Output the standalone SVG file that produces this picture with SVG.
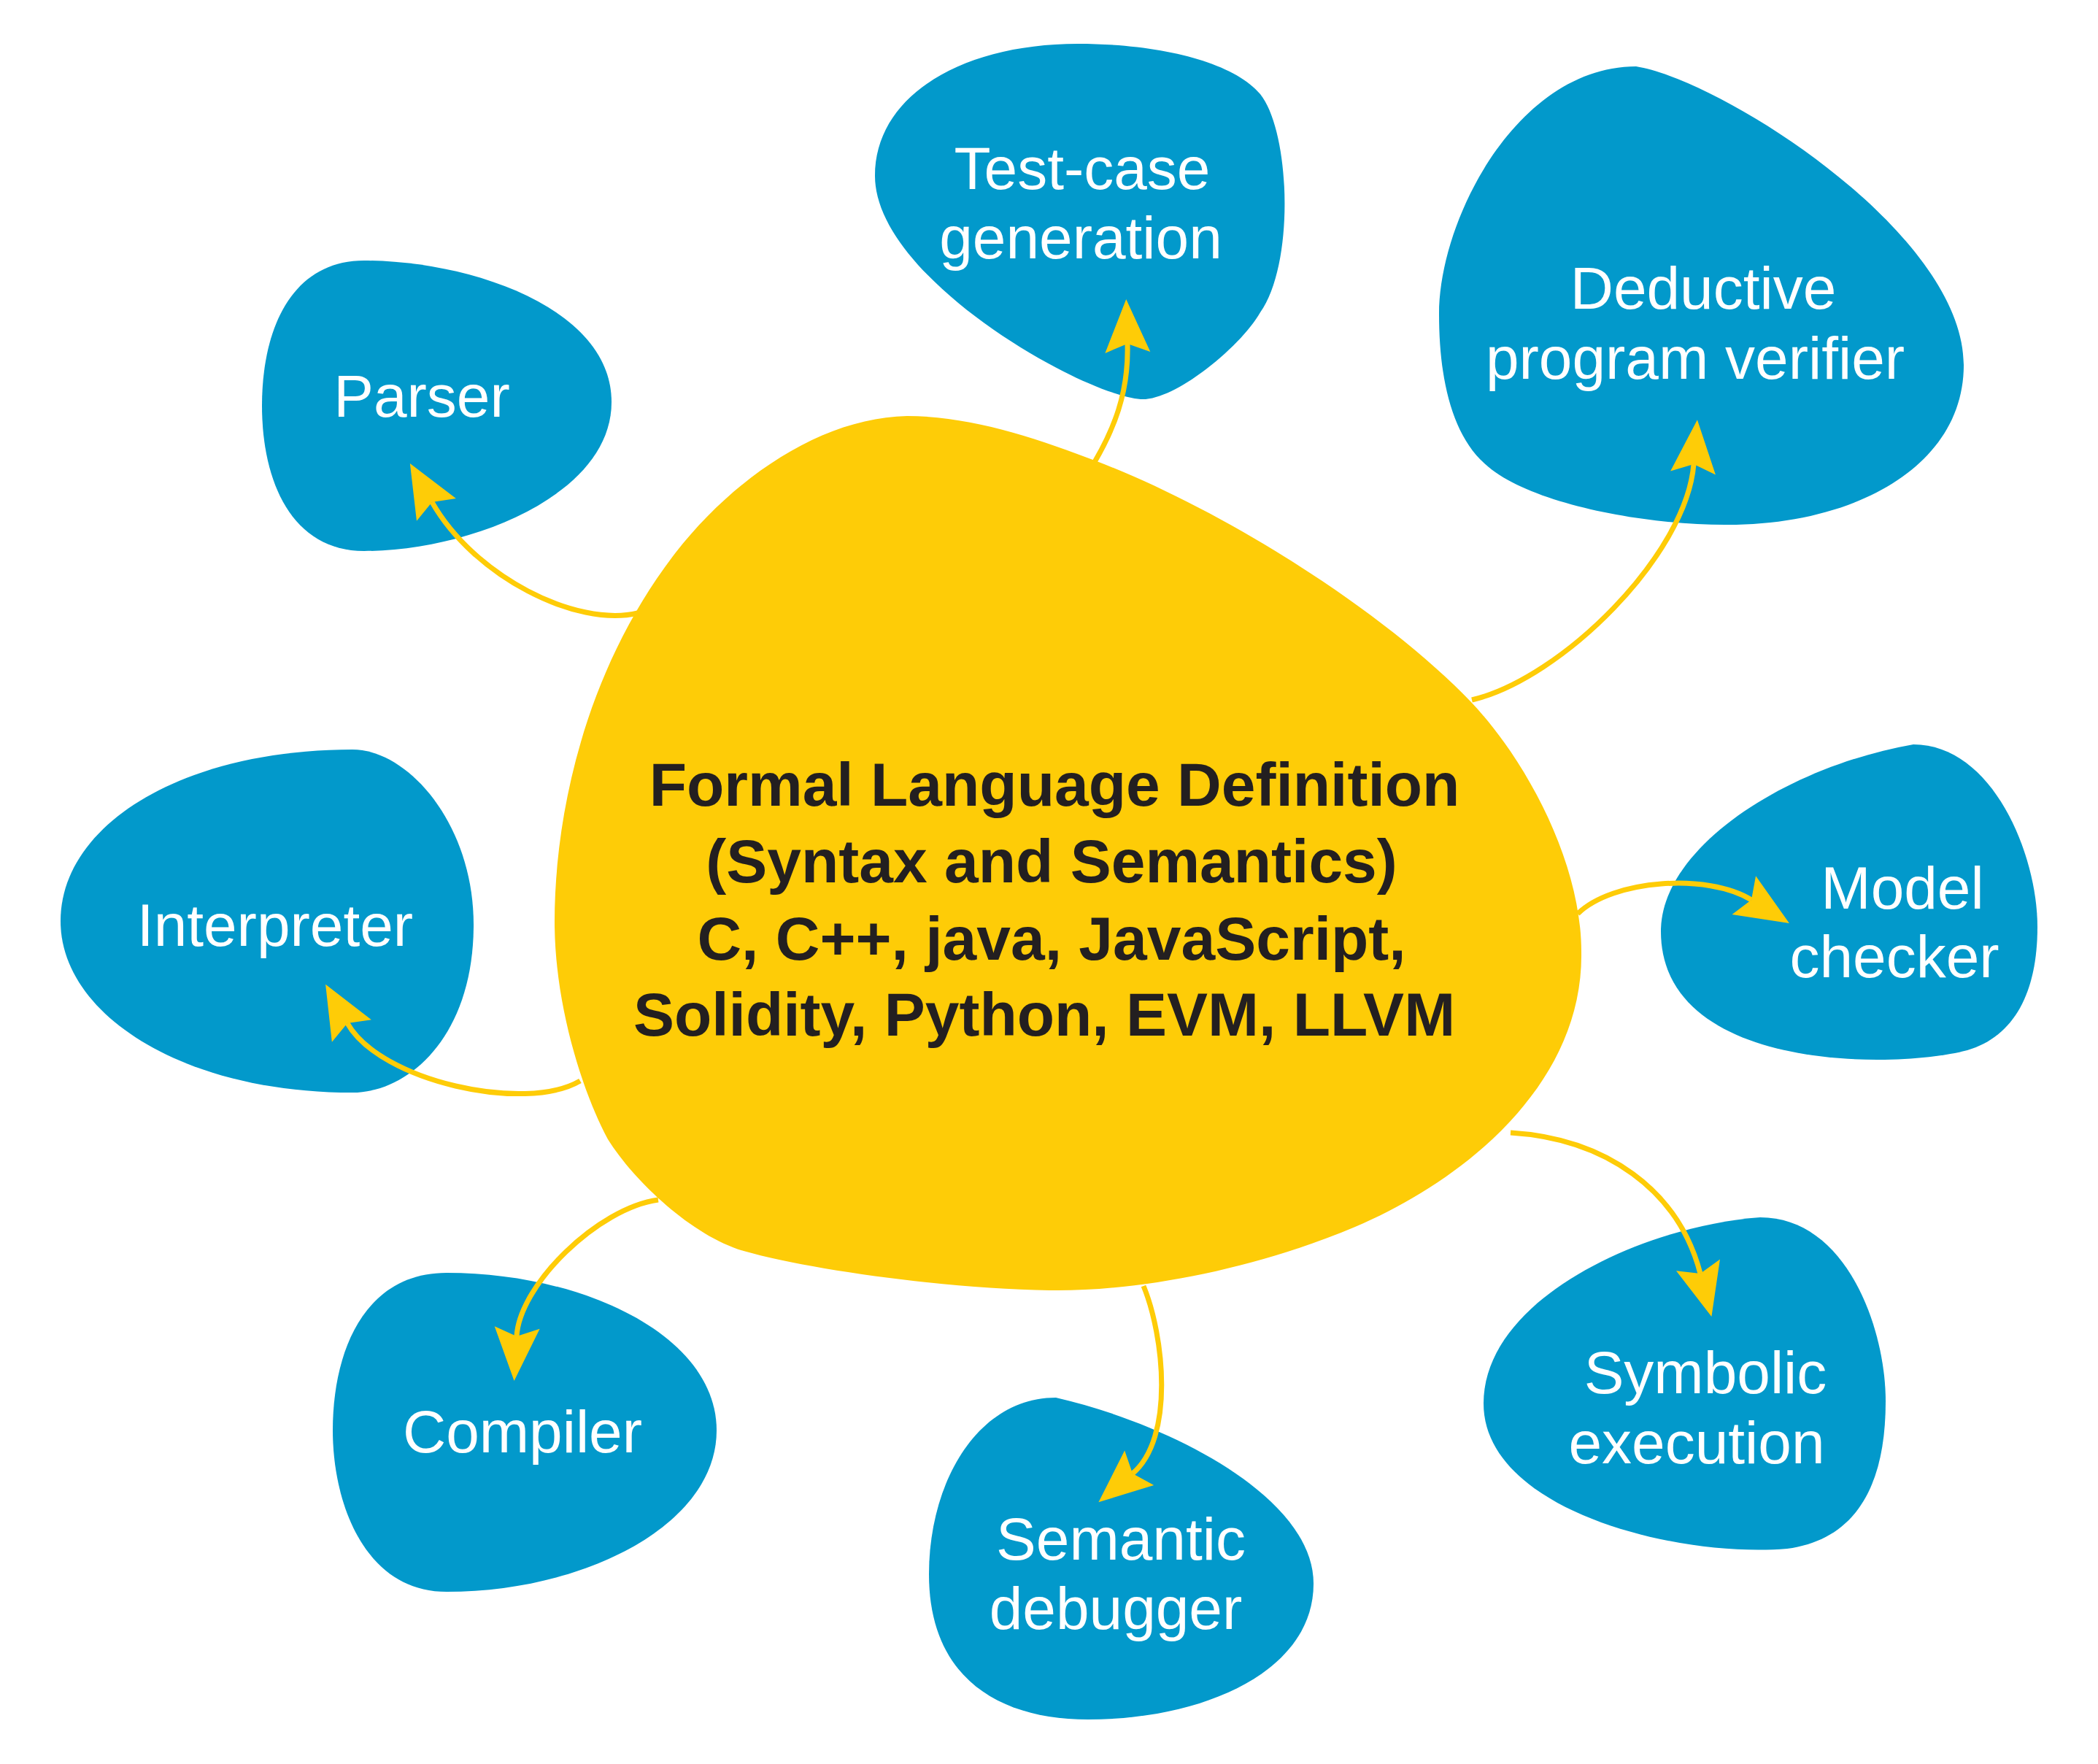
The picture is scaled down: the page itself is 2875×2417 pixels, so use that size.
<svg xmlns="http://www.w3.org/2000/svg" width="2875" height="2417" viewBox="0 0 2875 2417">
<style>
.blob{fill:#0299CB}
.core{fill:#FECC07}
.lbl{font-family:"Liberation Sans",Arial,sans-serif;font-size:82px;fill:#FFFFFF;text-anchor:middle}
.main{font-family:"Liberation Sans",Arial,sans-serif;font-size:84px;font-weight:bold;fill:#231F20;text-anchor:middle}
.con{fill:none;stroke:#FECC07;stroke-width:7}
</style>
<defs>
<marker id="ah" markerUnits="userSpaceOnUse" viewBox="-15 -35 80 70" markerWidth="80" markerHeight="70" refX="0" refY="0" orient="auto">
<path d="M61,0 L-12,-31 L0,0 L-12,31 Z" fill="#FECC07"/>
</marker>
</defs>
<rect width="2875" height="2417" fill="#FFFFFF"/>
<g id="node-parser">
<path class="blob" d="M499,357 C640,357 838,420 838,551 C838,680 640,755 499,755 C400,755 359,660 359,556 C359,450 400,357 499,357 Z"/>
<text class="lbl" x="578" y="571">Parser</text>
</g>
<g id="node-testcase">
<path class="blob" d="M1477,60 C1590,60 1690,85 1727,129 C1768,180 1775,360 1727,428 C1702,473 1610,550 1563,547 C1480,540 1199,380 1199,241 C1199,130 1320,60 1477,60 Z"/>
<text class="lbl" x="1483" y="259">Test-case</text>
<text class="lbl" x="1481" y="354">generation</text>
</g>
<g id="node-deductive">
<path class="blob" d="M2242,91 C2360,110 2691,320 2691,500 C2691,640 2540,720 2364,719 C2250,719 2100,690 2040,640 C1990,600 1972,520 1972,430 C1972,300 2080,91 2242,91 Z"/>
<text class="lbl" x="2334" y="423">Deductive</text>
<text class="lbl" x="2323" y="519">program verifier</text>
</g>
<g id="node-interpreter">
<path class="blob" d="M483,1027 C560,1027 649,1130 649,1267 C649,1420 560,1497 483,1497 C250,1497 83,1390 83,1262 C83,1130 250,1027 483,1027 Z"/>
<text class="lbl" x="377" y="1296">Interpreter</text>
</g>
<g id="node-model">
<path class="blob" d="M2622,1020 C2730,1020 2792,1170 2792,1270 C2792,1360 2760,1420 2696,1439 C2600,1465 2276,1470 2276,1276 C2276,1160 2450,1050 2622,1020 Z"/>
<text class="lbl" x="2607" y="1245">Model</text>
<text class="lbl" x="2596" y="1339">checker</text>
</g>
<g id="node-compiler">
<path class="blob" d="M612,1744 C800,1744 982,1830 982,1960 C982,2090 800,2181 612,2181 C500,2181 456,2060 456,1960 C456,1850 500,1744 612,1744 Z"/>
<text class="lbl" x="716" y="1990">Compiler</text>
</g>
<g id="node-semantic">
<path class="blob" d="M1447,1915 C1600,1950 1800,2050 1800,2170 C1800,2290 1650,2356 1491,2356 C1370,2356 1273,2300 1273,2157 C1273,2030 1340,1915 1447,1915 Z"/>
<text class="lbl" x="1536" y="2137">Semantic</text>
<text class="lbl" x="1529" y="2232">debugger</text>
</g>
<g id="node-symbolic">
<path class="blob" d="M2412,1668 C2530,1668 2584,1820 2584,1920 C2584,2040 2540,2110 2449,2122 C2300,2135 2033,2070 2033,1923 C2033,1780 2250,1680 2412,1668 Z"/>
<text class="lbl" x="2337" y="1909">Symbolic</text>
<text class="lbl" x="2325" y="2005">execution</text>
</g>
<g id="node-core">
<path class="core" d="M1243,570 C1330,570 1420,600 1503,632 C1680,700 1900,840 2016,962 C2090,1040 2167,1180 2167,1304 C2170,1490 2000,1620 1857,1681 C1720,1739 1560,1770 1438,1768 C1300,1766 1110,1740 1019,1714 C950,1694 870,1620 833,1561 C800,1500 760,1380 760,1263 C760,1120 800,920 926,757 C1010,650 1130,572 1243,570 Z"/>
<text class="main" x="1445" y="1104">Formal Language Definition</text>
<text class="main" x="1441" y="1209">(Syntax and Semantics)</text>
<text class="main" x="1441" y="1315">C, C++, java, JavaScript,</text>
<text class="main" x="1431" y="1419">Solidity, Python, EVM, LLVM</text>
</g>
<g id="connectors">
<path class="con" marker-end="url(#ah)" d="M874,840 C790,860 650,790 592,688"/>
<path class="con" marker-end="url(#ah)" d="M1500,633 C1525,590 1547,540 1545,471"/>
<path class="con" marker-end="url(#ah)" d="M2017,959 C2140,930 2311,760 2321,636"/>
<path class="con" marker-end="url(#ah)" d="M795,1481 C720,1525 521,1482 476,1402"/>
<path class="con" marker-end="url(#ah)" d="M2162,1252 C2210,1205 2340,1196 2400,1233"/>
<path class="con" marker-end="url(#ah)" d="M902,1644 C820,1655 712,1760 708,1831"/>
<path class="con" marker-end="url(#ah)" d="M1567,1762 C1595,1830 1610,1970 1552,2019"/>
<path class="con" marker-end="url(#ah)" d="M2070,1552 C2200,1560 2300,1630 2330,1745"/>
</g>
</svg>
